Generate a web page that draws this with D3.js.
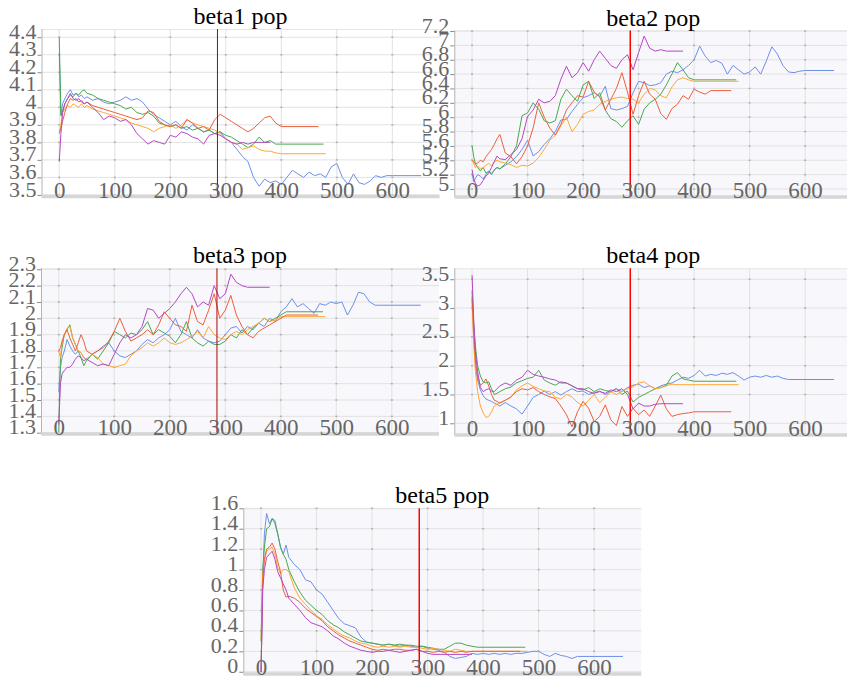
<!DOCTYPE html>
<html>
<head>
<meta charset="utf-8">
<script src="https://cdn.jsdelivr.net/npm/d3@7"></script>
<style>
  body { margin: 0; background: #ffffff; }
  svg { display: block; font-family: "Liberation Serif", "Times New Roman", serif; }
  .axis text { font-family: "Liberation Serif", "Times New Roman", serif; fill: #666666; }
</style>
</head>
<body>
<svg id="chart" width="847" height="682"></svg>
<script>
// Sampled training steps shared by every run (denser at the start).
const steps = [0, 3, 6, 10, 15, 20, 25, 30, 35, 40, 45, 50].concat(d3.range(60, 660, 10));
// Last step reached by each run; the final value is held flat up to it.
const runEnds = [652, 476, 480, 467, 380];
const runColors = ["#6d8fe6", "#47a84d", "#ffa733", "#ec5f3b", "#b447c4"];
const xTicks = [0, 100, 200, 300, 400, 500, 600];
const markerStep = 285;

// ---- beta1 population ----
const beta1Blue = [4.31,3.96,4.02,4.05,4.08,4.10,4.07,4.08,4.06,4.07,4.05,4.06,
  4.04,4.05,4.03,4.02,4.03,
  4.04,4.06,4.04,4.05,4.03,3.99,3.96,3.94,3.92,3.90,
  3.92,3.89,3.87,3.90,3.88,3.86,3.87,3.85,3.86,3.82,
  3.80,3.76,3.72,3.69,3.60,3.55,3.59,3.57,3.58,3.56,
  3.60,3.64,3.62,3.60,3.63,3.61,3.62,3.60,3.66,3.68,
  3.60,3.56,3.62,3.57,3.56,3.58,3.61,3.60,3.61,3.61];
const beta1Green = [4.40,3.95,3.98,4.02,4.05,4.07,4.06,4.08,4.07,4.09,4.10,4.08,
  4.07,4.05,4.04,4.03,4.02,
  4.01,3.99,4.00,3.97,3.96,3.97,3.95,3.91,3.90,3.89,
  3.90,3.88,3.89,3.87,3.88,3.86,3.87,3.85,3.86,3.84,
  3.83,3.81,3.79,3.77,3.79,3.83,3.80,3.81,3.79,3.79];
const beta1Orange = [3.86,3.90,3.97,3.99,4.01,4.00,4.02,4.01,4.00,4.02,4.00,4.01,
  3.99,3.98,3.97,3.96,3.95,
  3.94,3.93,3.91,3.90,3.89,3.88,3.86,3.88,3.89,3.90,
  3.88,3.90,3.93,3.91,3.90,3.89,3.88,3.87,3.85,3.82,
  3.80,3.79,3.76,3.77,3.78,3.76,3.75,3.75,3.74,3.735];
const beta1Red = [3.85,3.88,3.92,3.97,4.02,4.05,4.04,4.05,4.03,4.04,4.02,4.03,
  4.01,4.00,3.99,3.98,3.97,
  3.96,3.95,3.94,3.93,3.94,3.98,3.97,3.92,3.90,3.89,
  3.90,3.88,3.93,3.91,3.88,3.89,3.87,3.93,3.96,3.94,
  3.92,3.90,3.88,3.86,3.88,3.91,3.94,3.95,3.91,3.89];
const beta1Purple = [3.69,3.85,3.97,4.02,4.05,4.08,4.05,4.04,4.05,4.03,4.02,4.03,
  4.00,3.97,3.93,3.95,3.94,
  3.92,3.93,3.90,3.85,3.82,3.79,3.81,3.80,3.79,3.84,
  3.83,3.86,3.85,3.83,3.82,3.79,3.84,3.85,3.84,3.82,
  3.80,3.79,3.80,3.79,3.80,3.80,3.80,3.80];
const beta1Ticks = [3.5, 3.6, 3.7, 3.8, 3.9, 4, 4.1, 4.2, 4.3, 4.4];

// ---- beta2 population ----
const beta2Blue = [5.22,5.10,5.15,5.20,5.18,5.14,5.20,5.24,5.22,5.26,5.30,5.28,
  5.33,5.38,5.45,5.55,5.68,
  5.46,5.52,5.62,5.70,5.80,5.96,5.97,6.08,6.18,6.27,
  6.30,6.34,6.29,6.43,6.12,6.10,6.12,6.15,6.34,6.50,
  6.48,6.44,6.45,6.48,6.60,6.64,6.62,6.66,6.72,6.80,
  6.99,6.85,6.76,6.79,6.75,6.60,6.72,6.66,6.60,6.63,
  6.70,6.60,6.78,6.98,6.88,6.72,6.63,6.62,6.64,6.65];
const beta2Green = [5.60,5.45,5.35,5.30,5.25,5.30,5.22,5.25,5.20,5.27,5.30,5.28,
  5.35,5.45,5.60,6.02,6.06,
  6.20,6.11,5.95,5.92,5.95,6.25,6.39,6.30,6.22,6.45,
  6.50,6.26,6.34,6.10,5.98,5.94,5.86,5.95,6.02,5.90,
  6.11,6.20,6.25,6.32,6.45,6.60,6.76,6.66,6.55,6.52];
const beta2Orange = [5.41,5.35,5.30,5.32,5.28,5.30,5.33,5.36,5.32,5.38,5.40,5.38,
  5.36,5.34,5.30,5.33,5.32,
  5.36,5.44,5.55,5.68,5.75,5.88,6.00,5.80,5.90,6.04,
  6.08,6.10,6.18,6.22,6.25,6.27,6.28,6.26,6.25,6.20,
  6.32,6.40,6.38,6.30,6.27,6.42,6.52,6.55,6.52,6.50];
const beta2Red = [5.41,5.38,5.35,5.36,5.40,5.38,5.45,5.50,5.55,5.62,5.70,5.76,
  5.50,5.45,5.35,5.45,5.60,
  5.85,6.20,6.00,5.85,5.75,5.90,6.10,6.20,6.30,6.28,
  6.50,6.35,6.28,6.10,6.25,6.40,6.62,6.35,6.04,6.30,
  6.50,6.32,6.25,6.05,5.97,6.12,6.18,6.30,6.25,6.39,
  6.35,6.32,6.37];
const beta2Purple = [5.27,5.15,5.08,5.04,5.06,5.12,5.18,5.22,5.30,5.38,5.46,5.42,
  5.41,5.48,5.55,5.70,6.01,
  6.10,6.25,6.20,6.22,6.30,6.53,6.71,6.55,6.62,6.76,
  6.64,6.80,6.92,6.82,6.72,6.68,6.80,6.87,6.66,6.90,
  7.13,6.96,6.92,6.94,6.92];
const beta2Ticks = [5, 5.2, 5.4, 5.6, 5.8, 6, 6.2, 6.4, 6.6, 6.8, 7, 7.2];

// ---- beta3 population ----
const beta3Blue = [1.55,1.70,1.76,1.80,1.87,1.83,1.80,1.78,1.80,1.79,1.76,1.75,
  1.78,1.80,1.83,1.85,1.80,
  1.77,1.76,1.78,1.80,1.84,1.87,1.85,1.88,1.90,1.93,
  2.00,1.92,1.90,1.88,1.93,1.88,1.86,1.85,1.86,1.90,
  1.94,1.95,1.91,1.95,1.93,1.97,1.95,2.00,1.98,2.04,
  2.07,2.12,2.07,2.09,2.06,2.03,2.09,2.08,2.10,2.09,
  2.10,2.02,2.08,2.16,2.15,2.10,2.08,2.08];
const beta3Green = [1.30,1.75,1.82,1.90,1.93,1.96,1.88,1.84,1.80,1.76,1.71,1.74,
  1.78,1.75,1.80,1.85,1.92,
  1.90,1.88,1.91,1.90,1.93,1.98,1.90,1.93,1.91,1.89,
  1.85,1.90,1.98,1.88,1.85,1.83,1.86,1.84,1.84,1.86,
  1.90,1.88,1.93,1.90,1.94,1.97,2.00,1.98,2.00,2.02,
  2.04];
const beta3Orange = [1.80,1.76,1.85,1.90,1.94,1.95,1.88,1.84,1.80,1.79,1.76,1.75,
  1.78,1.76,1.72,1.71,1.70,
  1.71,1.72,1.77,1.80,1.82,1.85,1.83,1.85,1.88,1.85,
  1.84,1.85,1.87,1.89,1.92,1.88,1.95,1.90,1.88,1.87,
  1.90,1.92,1.90,1.93,1.95,1.97,2.00,1.98,1.99,2.01];
const beta3Red = [1.80,1.82,1.86,1.90,1.93,1.88,1.84,1.80,1.85,1.90,1.86,1.80,
  1.78,1.80,1.82,1.86,1.92,
  2.00,1.92,1.86,1.88,1.90,1.93,1.90,1.96,2.04,2.00,
  1.96,1.95,1.92,2.08,1.98,1.96,2.05,2.15,2.00,2.05,
  2.14,2.02,1.95,1.90,1.88,1.92,1.94,1.96,1.98,2.00,
  2.02];
const beta3Purple = [1.35,1.60,1.66,1.68,1.70,1.70,1.72,1.75,1.77,1.76,1.74,1.75,
  1.73,1.71,1.72,1.71,1.78,
  1.85,1.90,1.88,1.90,1.95,2.06,2.05,2.00,2.03,2.06,
  2.10,2.15,2.19,2.15,2.07,2.10,2.08,2.20,2.12,2.15,
  2.27,2.22,2.20,2.19];
const beta3Ticks = [1.3, 1.4, 1.5, 1.6, 1.7, 1.8, 1.9, 2, 2.1, 2.2, 2.3];

// ---- beta4 population ----
const beta4Blue = [3.15,2.50,2.00,1.75,1.58,1.48,1.42,1.40,1.38,1.35,1.33,1.30,
  1.36,1.30,1.25,1.16,1.30,
  1.45,1.50,1.56,1.50,1.55,1.49,1.55,1.60,1.55,1.56,
  1.50,1.53,1.56,1.50,1.55,1.60,1.55,1.62,1.66,1.68,
  1.62,1.65,1.60,1.65,1.68,1.70,1.75,1.80,1.78,1.83,
  1.92,1.82,1.85,1.83,1.87,1.85,1.88,1.82,1.75,1.80,
  1.82,1.80,1.83,1.80,1.82,1.78,1.76];
const beta4Green = [3.30,2.70,2.35,2.00,1.82,1.72,1.70,1.72,1.60,1.50,1.52,1.55,
  1.60,1.63,1.70,1.74,1.78,
  1.80,1.92,1.75,1.70,1.66,1.72,1.70,1.65,1.60,1.58,
  1.62,1.55,1.60,1.57,1.55,1.60,1.50,1.56,1.37,1.45,
  1.50,1.55,1.60,1.62,1.66,1.82,1.88,1.77,1.75,1.73];
const beta4Orange = [3.05,2.40,1.90,1.55,1.30,1.18,1.10,1.12,1.20,1.30,1.33,1.36,
  1.40,1.45,1.58,1.65,1.70,
  1.64,1.60,1.56,1.55,1.45,1.42,1.50,1.46,1.36,1.30,
  1.40,1.50,1.36,1.45,1.55,1.50,1.55,1.60,1.63,1.70,
  1.72,1.65,1.60,1.62,1.65,1.68,1.67];
const beta4Red = [3.20,2.60,2.10,1.80,1.66,1.70,1.77,1.65,1.50,1.40,1.38,1.35,
  1.40,1.46,1.55,1.60,1.58,
  1.62,1.55,1.50,1.46,1.43,1.30,1.15,0.94,1.20,1.38,
  1.26,1.03,1.12,1.32,1.06,0.96,1.29,1.12,1.26,1.15,
  1.23,1.12,1.30,1.49,1.25,1.12,1.15,1.17,1.18,1.20];
const beta4Purple = [3.57,2.80,2.25,1.90,1.62,1.55,1.58,1.60,1.56,1.55,1.60,1.65,
  1.70,1.66,1.75,1.80,1.92,
  1.85,1.82,1.80,1.77,1.75,1.70,1.70,1.65,1.60,1.60,
  1.55,1.52,1.55,1.52,1.58,1.55,1.60,1.50,1.25,1.35,
  1.30,1.30,1.33,1.34];
const beta4Ticks = [1, 1.5, 2, 2.5, 3, 3.5];

// ---- beta5 population ----
const beta5Blue = [0.00,0.90,1.35,1.55,1.45,1.50,1.48,1.35,1.22,1.15,1.24,1.12,
  1.05,1.00,0.90,0.88,0.80,
  0.76,0.68,0.60,0.52,0.47,0.45,0.43,0.34,0.29,0.28,
  0.27,0.26,0.27,0.26,0.25,0.26,0.25,0.24,0.25,0.23,
  0.22,0.21,0.19,0.15,0.13,0.14,0.15,0.18,0.17,0.18,
  0.17,0.18,0.17,0.18,0.17,0.18,0.18,0.19,0.20,0.20,
  0.17,0.15,0.18,0.16,0.15,0.13,0.15,0.15];
const beta5Green = [0.30,1.00,1.22,1.40,1.42,1.50,1.45,1.35,1.22,1.15,1.10,1.00,
  0.88,0.78,0.70,0.65,0.60,
  0.56,0.50,0.46,0.43,0.39,0.36,0.33,0.30,0.29,0.28,
  0.27,0.26,0.27,0.26,0.27,0.26,0.26,0.25,0.25,0.24,
  0.23,0.22,0.22,0.25,0.28,0.28,0.26,0.25,0.24];
const beta5Orange = [0.30,0.95,1.10,1.18,1.20,1.22,1.15,1.02,0.96,1.00,1.00,0.98,
  0.82,0.72,0.66,0.60,0.55,
  0.51,0.46,0.42,0.38,0.35,0.33,0.30,0.28,0.27,0.25,
  0.24,0.25,0.24,0.25,0.24,0.25,0.24,0.24,0.23,0.22,
  0.23,0.22,0.21,0.20,0.22,0.21,0.20];
const beta5Red = [0.00,0.90,1.10,1.20,1.22,1.26,1.20,1.08,0.98,0.80,0.73,0.74,
  0.72,0.68,0.62,0.58,0.54,
  0.50,0.44,0.40,0.36,0.33,0.30,0.28,0.26,0.24,0.22,
  0.21,0.22,0.21,0.22,0.22,0.21,0.21,0.22,0.20,0.20,
  0.19,0.20,0.19,0.20,0.19,0.20,0.19,0.20];
const beta5Purple = [0.00,0.80,1.00,1.12,1.15,1.18,1.10,0.98,0.92,0.86,0.80,0.72,
  0.66,0.60,0.53,0.48,0.46,
  0.44,0.40,0.35,0.32,0.28,0.25,0.23,0.21,0.20,0.19,
  0.20,0.20,0.21,0.20,0.19,0.20,0.21,0.22,0.20,0.18,
  0.17];
const beta5Ticks = [0, 0.2, 0.4, 0.6, 0.8, 1, 1.2, 1.4, 1.6];

// Panel layout: position, value range shown and styling.
const panels = [
  { title: "beta1 pop", runs: [beta1Blue, beta1Green, beta1Orange, beta1Red, beta1Purple],
    ticks: beta1Ticks, yDomain: [3.491, 4.447], left: 41.5, top: 29, height: 167.5,
    bg: "#ffffff", marker: "#b00000", markerWidth: 1 },
  { title: "beta2 pop", runs: [beta2Blue, beta2Green, beta2Orange, beta2Red, beta2Purple],
    ticks: beta2Ticks, yDomain: [4.889, 7.207], left: 454.3, top: 30.5, height: 166.5,
    bg: "#f8f8fc", marker: "#ff0000", markerWidth: 1.5 },
  { title: "beta3 pop", runs: [beta3Blue, beta3Green, beta3Orange, beta3Red, beta3Purple],
    ticks: beta3Ticks, yDomain: [1.292, 2.306], left: 41, top: 268.3, height: 165.7,
    bg: "#f8f8fc", marker: "#b00000", markerWidth: 1 },
  { title: "beta4 pop", runs: [beta4Blue, beta4Green, beta4Orange, beta4Red, beta4Purple],
    ticks: beta4Ticks, yDomain: [0.797, 3.69], left: 454.3, top: 268.3, height: 166.7,
    bg: "#f8f8fc", marker: "#ff0000", markerWidth: 1.5 },
  { title: "beta5 pop", runs: [beta5Blue, beta5Green, beta5Orange, beta5Red, beta5Purple],
    ticks: beta5Ticks, yDomain: [-0.022, 1.6], left: 243.3, top: 508.3, height: 165.7,
    bg: "#f8f8fc", marker: "#ff0000", markerWidth: 1.5 }
];
const PANEL_WIDTH = 398;
const X_DOMAIN = [-32, 685];
const LABEL_FONT = '"Liberation Serif", "Times New Roman", serif';

const svg = d3.select("#chart");

panels.forEach((p, k) => {
  const w = PANEL_WIDTH, h = p.height;
  const x = d3.scaleLinear().domain(X_DOMAIN).range([0, w]);
  const y = d3.scaleLinear().domain(p.yDomain).range([h, 0]);
  const g = svg.append("g").attr("transform", `translate(${p.left},${p.top})`);

  g.append("rect").attr("width", w).attr("height", h).attr("fill", p.bg);

  // grid
  g.append("line").attr("x1", 0).attr("x2", w).attr("y1", 0.5).attr("y2", 0.5)
    .attr("stroke", "#e6e6e6");
  g.selectAll("line.hgrid").data(p.ticks).join("line").attr("class", "hgrid")
    .attr("x1", 0).attr("x2", w)
    .attr("y1", d => y(d)).attr("y2", d => y(d))
    .attr("stroke", "#e2e2e2").attr("stroke-width", 1);
  g.selectAll("line.vgrid").data(xTicks).join("line").attr("class", "vgrid")
    .attr("x1", d => x(d)).attr("x2", d => x(d))
    .attr("y1", 0).attr("y2", h)
    .attr("stroke", "#e2e2e2").attr("stroke-width", 1);
  // small marks where grid lines cross
  const crossings = [];
  xTicks.forEach(a => p.ticks.forEach(b => crossings.push([a, b])));
  g.selectAll("rect.cross").data(crossings).join("rect").attr("class", "cross")
    .attr("x", d => x(d[0]) - 1).attr("y", d => y(d[1]) - 0.75)
    .attr("width", 2).attr("height", 1.5).attr("fill", "#b0b0b0");

  // runs
  const clipId = "panel-clip-" + k;
  g.append("clipPath").attr("id", clipId).append("rect")
    .attr("width", w).attr("height", h);
  const line = d3.line().x(d => x(d[0])).y(d => y(d[1]));
  p.runs.forEach((vals, i) => {
    const pts = vals.map((v, j) => [steps[j], v]);
    pts.push([runEnds[i], vals[vals.length - 1]]);
    g.append("path").datum(pts)
      .attr("clip-path", `url(#${clipId})`)
      .attr("fill", "none")
      .attr("stroke", runColors[i])
      .attr("stroke-width", 1)
      .attr("stroke-linejoin", "round")
      .attr("d", line);
  });

  // marker at the chosen step
  g.append("line")
    .attr("x1", x(markerStep)).attr("x2", x(markerStep))
    .attr("y1", 0).attr("y2", h)
    .attr("stroke", p.marker).attr("stroke-width", p.markerWidth);

  // y axis
  const ya = g.append("g").attr("class", "axis")
    .call(d3.axisLeft(y).tickValues(p.ticks).tickSize(4).tickPadding(1).tickFormat(d => String(d)))
    .attr("font-family", LABEL_FONT)
    .attr("font-size", 22);
  ya.select(".domain").remove();
  ya.selectAll(".tick line").attr("stroke", "#888");
  ya.selectAll(".tick text")
    .attr("dy", "0.05em")
    .attr("fill", "#666")
    .attr("font-family", LABEL_FONT)
    .attr("font-size", 22);
  g.append("line").attr("x1", 0.5).attr("x2", 0.5).attr("y1", 0).attr("y2", h)
    .attr("stroke", "#b4b4b4");

  // x axis: labels sit just above the base line
  g.append("line").attr("x1", 0).attr("x2", w).attr("y1", h).attr("y2", h)
    .attr("stroke", "#d6d6d6").attr("stroke-width", 3.5);
  const xa = g.append("g").attr("class", "axis").attr("transform", `translate(0,${h})`)
    .call(d3.axisBottom(x).tickValues(xTicks).tickSize(0).tickFormat(d => String(d)))
    .attr("font-family", LABEL_FONT)
    .attr("font-size", 23);
  xa.select(".domain").remove();
  xa.selectAll(".tick text")
    .attr("y", 1).attr("dy", 0)
    .attr("fill", "#666")
    .attr("font-family", LABEL_FONT)
    .attr("font-size", 23);

  // title
  g.append("text")
    .attr("x", w / 2).attr("y", -5)
    .attr("text-anchor", "middle")
    .attr("fill", "#000")
    .attr("font-family", LABEL_FONT)
    .attr("font-size", 24)
    .text(p.title);
});
</script>
</body>
</html>
